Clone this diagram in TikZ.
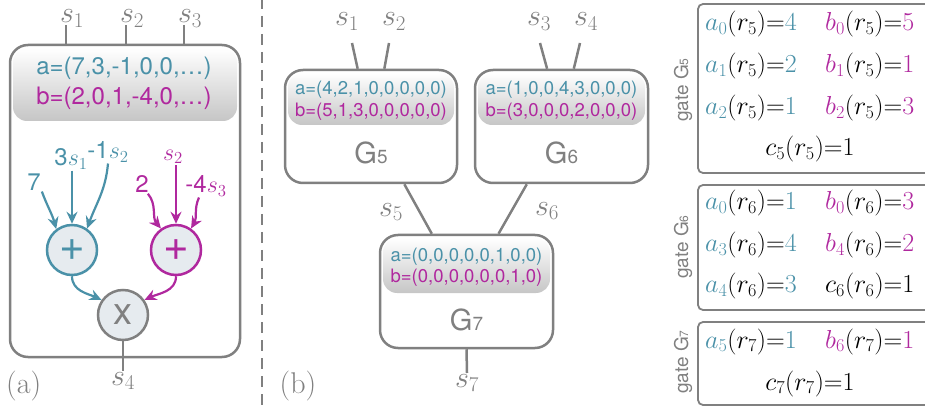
\RequirePackage{fix-cm}
\documentclass[tikz,border=0pt]{standalone}
\usepackage{fontspec}
\setsansfont{TeX Gyre Heros}
\usepackage{tikz}
\usetikzlibrary{positioning, arrows.meta}

\definecolor{acol}{HTML}{4A91A8}
\definecolor{bcol}{HTML}{B0289E}
\definecolor{linecol}{HTML}{808080}
\definecolor{opfill}{HTML}{E6EBEF}

\newcommand{\ca}[1]{{\color{acol}#1}}
\newcommand{\cb}[1]{{\color{bcol}#1}}
\newcommand{\gn}[2]{G{\fontsize{#1}{#1}\selectfont #2}}
\newcommand{\lblfont}{\fontsize{30}{34}\selectfont}
\newcommand{\vecbig}{\sffamily\fontsize{24}{28}\selectfont}
\newcommand{\vecsmall}{\sffamily\fontsize{18.5}{21}\selectfont}
\newcommand{\inpfont}{\sffamily\fontsize{24}{28}\selectfont}
\newcommand{\eqfont}{\fontsize{26}{30}\selectfont}

\begin{document}
\begin{tikzpicture}[x=1pt,y=1pt,
  wire/.style={linecol, line width=2.5pt},
  tarr/.style={acol, line width=2.2pt, -{Stealth[length=12pt,width=11pt,inset=4pt]}},
  barr/.style={bcol, line width=2.2pt, -{Stealth[length=12pt,width=11pt,inset=4pt]}},
  opnode/.style={circle, minimum size=50pt, inner sep=0pt, line width=2.5pt, fill=opfill},
  gatebox/.style={draw=linecol, line width=2.5pt, rounded corners=18pt},
  vecshade/.style={top color=white, bottom color=gray!45, rounded corners=14pt},
  lbl/.style={text=linecol, font=\lblfont, inner sep=1pt},
  gatelbl/.style={text=linecol, font=\sffamily\fontsize{19}{22}\selectfont, rotate=90},
  eqrow/.style={anchor=base west, font=\eqfont, inner sep=0pt},
  bracket/.style={linecol, line width=1.8pt, rounded corners=5pt}]
\useasboundingbox (0,0) rectangle (925,-411);

% (a) one gate with its sums
\shade[vecshade] (13,-48) rectangle (237,-121);
\node[gatebox, minimum width=230pt, minimum height=312pt] (boxA) at (125,-201) {};
\node[acol, font=\vecbig] (avecA) at (124,-68) {a=(7,3,-1,0,0,\ldots)};
\node[bcol, font=\vecbig] (bvecA) at (124,-98) {b=(2,0,1,-4,0,\ldots)};
\foreach \x/\i in {66/1,126/2,184/3}{
  \coordinate (inA\i) at (\x,-25);
  \draw[wire] (inA\i) -- (inA\i |- boxA.north);
  \node[lbl, anchor=base] (sA\i) at (\x+6,-23) {$s_\i$};
}

\node[opnode, draw=acol] (plusA) at (72,-250) {\sffamily\fontsize{44}{44}\selectfont\color{acol}+};
\node[opnode, draw=bcol] (plusB) at (176,-250) {\sffamily\fontsize{44}{44}\selectfont\color{bcol}+};
\node[opnode, draw=linecol] (times) at (123,-315) {\sffamily\fontsize{38}{38}\selectfont\color{linecol}x};

\node[acol, font=\inpfont, inner sep=1pt] (cA1) at (34,-182) {7};
\node[acol, font=\inpfont, inner sep=1pt] (cA2) at (71,-159) {3$s_1$};
\node[acol, font=\inpfont, inner sep=1pt] (cA3) at (108,-152) {-1$s_2$};
\node[bcol, font=\inpfont, inner sep=1pt] (cB1) at (142,-184) {2};
\node[bcol, font=\inpfont, inner sep=1pt] (cB2) at (173,-157) {$s_2$};
\node[bcol, font=\inpfont, inner sep=1pt] (cB3) at (206,-186) {-4$s_3$};

\draw[tarr] (cA1.south east) to[out=-70,in=105] (plusA.127);
\draw[tarr] (plusA.north |- cA2.south) -- (plusA.north);
\draw[tarr] (cA3.south) to[out=-95,in=70] (plusA.55);
\draw[barr] ([xshift=-2pt]cB1.south east) to[out=-50,in=130] (plusB.125);
\draw[barr] (plusB.north |- cB2.south) -- (plusB.north);
\draw[barr] ([xshift=-7pt]cB3.south) to[out=-115,in=60] (plusB.55);
\draw[tarr] (plusA.south) to[out=-90,in=155] (times.145);
\draw[barr] (plusB.south) to[out=-90,in=25] (times.35);

\coordinate (outA) at (123,-371);
\draw[wire] (times.south) -- (outA);
\node[lbl, below=0pt of outA] (sA4) {$s_4$};
\node[lbl, anchor=west] (capA) at (5,-386) {(a)};

\draw[linecol, line width=2.8pt, dash pattern=on 11pt off 7pt] (262,2) -- (262,-411);

% (b) gates G5, G6 feeding G7
\shade[vecshade] (288,-73) rectangle (454,-125);
\node[gatebox, minimum width=172pt, minimum height=113pt] (G5) at (371,-126.5) {};
\node[acol, font=\vecsmall] at (371,-90) {a=(4,2,1,0,0,0,0,0)};
\node[bcol, font=\vecsmall] at (371,-112) {b=(5,1,3,0,0,0,0,0)};
\node[text=linecol, font=\sffamily\fontsize{29}{30}\selectfont] at (371,-153) {\gn{19}{5}};

\shade[vecshade] (478,-73) rectangle (645,-125);
\node[gatebox, minimum width=173pt, minimum height=113pt] (G6) at (561.5,-126.5) {};
\node[acol, font=\vecsmall] at (561.5,-90) {a=(1,0,0,4,3,0,0,0)};
\node[bcol, font=\vecsmall] at (561.5,-112) {b=(3,0,0,0,2,0,0,0)};
\node[text=linecol, font=\sffamily\fontsize{29}{30}\selectfont] at (561.5,-153) {\gn{19}{6}};

\shade[vecshade] (383,-238) rectangle (550,-293);
\node[gatebox, minimum width=173pt, minimum height=113pt] (G7) at (466.5,-291.5) {};
\node[acol, font=\vecsmall] at (466.5,-257) {a=(0,0,0,0,0,1,0,0)};
\node[bcol, font=\vecsmall] at (466.5,-278) {b=(0,0,0,0,0,0,1,0)};
\node[text=linecol, font=\sffamily\fontsize{29}{30}\selectfont] at (466.5,-320) {\gn{19}{7}};

\coordinate (e51) at (352,-43);
\coordinate (e52) at (389,-43);
\coordinate (e63) at (540,-43);
\coordinate (e64) at (580,-43);
\draw[wire] (e51) -- (G5.103);
\draw[wire] (e52) -- (G5.77);
\draw[wire] (e63) -- (G6.104);
\draw[wire] (e64) -- (G6.78);
\node[lbl, anchor=base] (sB1) at (347,-26) {$s_1$};
\node[lbl, anchor=base] (sB2) at (394,-26) {$s_2$};
\node[lbl, anchor=base] (sB3) at (539,-26) {$s_3$};
\node[lbl, anchor=base] (sB4) at (586,-26) {$s_4$};

\draw[wire] (G5.-60) -- (G7.121);
\draw[wire] (G6.-121) -- (G7.61);
\node[lbl] (sB5) at (391,-212) {$s_5$};
\node[lbl] (sB6) at (547,-211) {$s_6$};

\coordinate (o7) at (467,-373);
\draw[wire] (G7.south) -- (o7);
\node[lbl, below=0pt of o7] (sB7) {$s_7$};
\node[lbl] (capB) at (298,-386) {(b)};

% constraints per gate
\draw[bracket] (930,-4) -| (698,-173) -- (930,-173);
\node[gatelbl] at (683,-90) {gate \gn{12}{5}};
\node[eqrow] at (705,-31) {$\ca{a_0}(r_5){=}\ca{4}$};
\node[eqrow] at (825,-31) {$\cb{b_0}(r_5){=}\cb{5}$};
\node[eqrow] at (705,-73) {$\ca{a_1}(r_5){=}\ca{2}$};
\node[eqrow] at (825,-73) {$\cb{b_1}(r_5){=}\cb{1}$};
\node[eqrow] at (705,-115) {$\ca{a_2}(r_5){=}\ca{1}$};
\node[eqrow] at (825,-115) {$\cb{b_2}(r_5){=}\cb{3}$};
\node[eqrow, anchor=base] at (810,-156) {$c_5(r_5){=}1$};

\draw[bracket] (930,-185) -| (698,-310) -- (930,-310);
\node[gatelbl] at (683,-247) {gate \gn{12}{6}};
\node[eqrow] at (705,-210) {$\ca{a_0}(r_6){=}\ca{1}$};
\node[eqrow] at (825,-210) {$\cb{b_0}(r_6){=}\cb{3}$};
\node[eqrow] at (705,-252) {$\ca{a_3}(r_6){=}\ca{4}$};
\node[eqrow] at (825,-252) {$\cb{b_4}(r_6){=}\cb{2}$};
\node[eqrow] at (705,-293) {$\ca{a_4}(r_6){=}\ca{3}$};
\node[eqrow] at (825,-293) {$c_6(r_6){=}1$};

\draw[bracket] (930,-322) -| (698,-405) -- (930,-405);
\node[gatelbl] at (683,-362) {gate \gn{12}{7}};
\node[eqrow] at (705,-348) {$\ca{a_5}(r_7){=}\ca{1}$};
\node[eqrow] at (825,-348) {$\cb{b_6}(r_7){=}\cb{1}$};
\node[eqrow, anchor=base] at (810,-390) {$c_7(r_7){=}1$};
\end{tikzpicture}
\end{document}
